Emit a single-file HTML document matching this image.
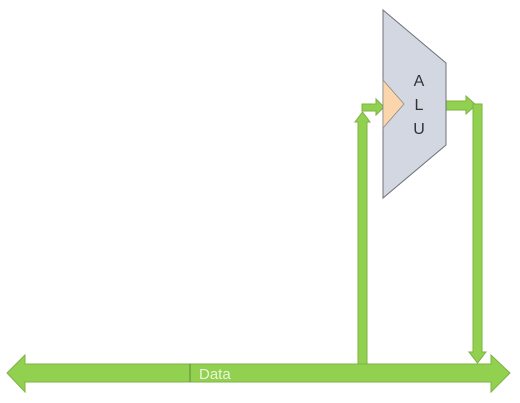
<!DOCTYPE html>
<html><head><meta charset="utf-8"><style>
html,body{margin:0;padding:0;background:#fff;width:520px;height:403px;overflow:hidden}
svg{display:block}
</style></head><body>
<svg width="520" height="403" viewBox="0 0 520 403">
  <g fill="#92d050" stroke="#7cb342" stroke-width="1">
    <path d="M358,364 L358,122 L355,122 L362.5,112 L370,122 L367,122 L367,364 Z"/>
    <path d="M362,104 L376,104 L376,99 L384,107 L376,115 L376,111 L362,111 Z"/>
    <path d="M446,101 L466,101 L466,96 L476,105 L466,114 L466,110 L446,110 Z"/>
    <path d="M473,104 L482,104 L482,352 L486,352 L477.5,363 L469,352 L473,352 Z"/>
    <path d="M7,373 L25,355 L25,364 L491,364 L491,355 L510,373 L491,392 L491,382 L25,382 L25,392 Z"/>
  </g>
  <line x1="190" y1="364" x2="190" y2="382" stroke="#5e8a3a" stroke-width="1"/>
  <text x="199" y="379" font-family="Liberation Sans, sans-serif" font-size="15" fill="#eaf5dc">Data</text>
  <polygon points="383,10 446,63 446,145 383,198" fill="#d3d7e2" stroke="#6f7178" stroke-width="1"/>
  <polygon points="383,80 404,104 383,128" fill="#fbd5ab" stroke="#8a8a8a" stroke-width="0.8"/>
  <g font-family="Liberation Sans, sans-serif" font-size="16" fill="#333" text-anchor="middle">
    <text x="419" y="86">A</text>
    <text x="419" y="110">L</text>
    <text x="419" y="134">U</text>
  </g>
</svg>
</body></html>
